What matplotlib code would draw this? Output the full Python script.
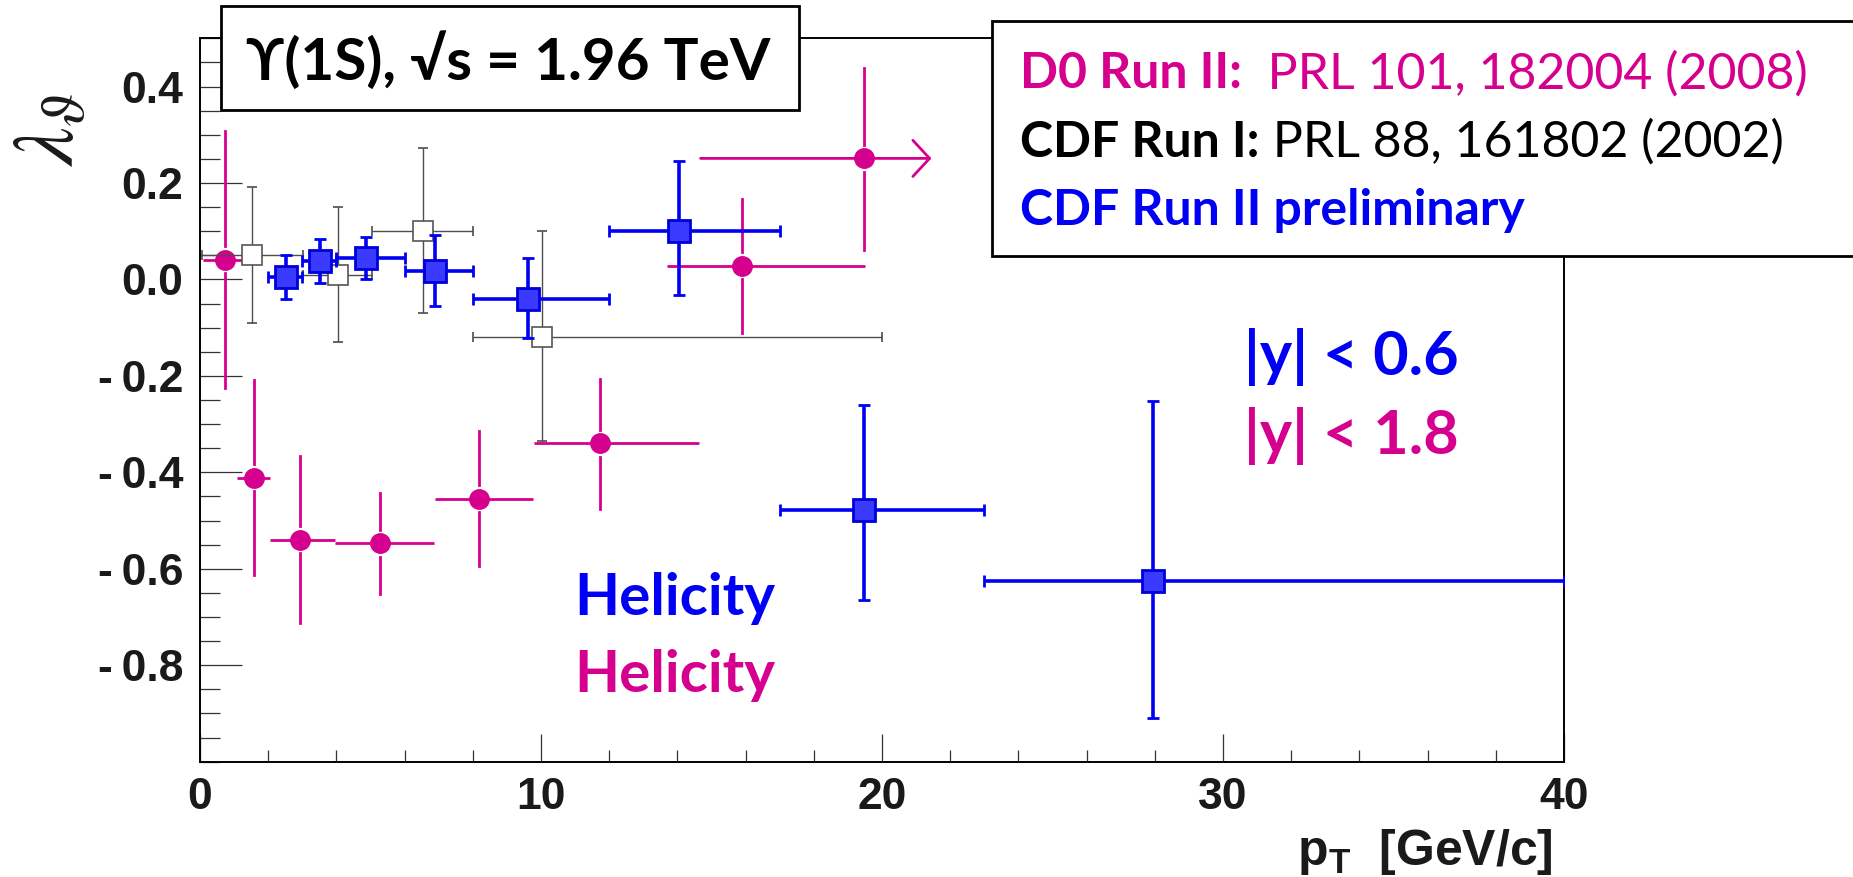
import numpy as np
import matplotlib.pyplot as plt
from matplotlib.patches import Rectangle
from matplotlib.ticker import MultipleLocator

# D0 Run II, |y| < 1.8 (last point only has a lower pT edge -> arrow)
d0_pt = [0.72, 1.57, 2.92, 5.28, 8.18, 11.73, 15.89, 19.46]
d0_pt_lo = [0.10, 1.09, 2.04, 3.97, 6.89, 9.80, 13.70, 14.68]
d0_pt_hi = [1.30, 2.04, 3.97, 6.85, 9.77, 14.63, 19.50, 21.45]
d0_lam = [0.041, -0.411, -0.540, -0.547, -0.455, -0.340, 0.028, 0.251]
d0_lam_lo = [-0.225, -0.612, -0.712, -0.652, -0.595, -0.476, -0.112, 0.061]
d0_lam_hi = [0.308, -0.209, -0.366, -0.442, -0.314, -0.207, 0.167, 0.439]

# CDF Run I
cdf1_pt = [1.52, 4.06, 6.53, 10.03]
cdf1_pt_lo = [0.05, 3.03, 5.04, 8.02]
cdf1_pt_hi = [3.03, 5.04, 8.02, 20.0]
cdf1_lam = [0.050, 0.010, 0.101, -0.119]
cdf1_lam_lo = [-0.090, -0.130, -0.069, -0.336]
cdf1_lam_hi = [0.191, 0.150, 0.272, 0.101]

# CDF Run II preliminary, |y| < 0.6
cdf2_pt = [2.52, 3.52, 4.88, 6.90, 9.62, 14.06, 19.46, 27.94]
cdf2_pt_lo = [2.0, 3.0, 4.0, 6.0, 8.0, 12.0, 17.0, 23.0]
cdf2_pt_hi = [3.0, 4.0, 6.0, 8.0, 12.0, 17.0, 23.0, 40.0]
cdf2_lam = [0.005, 0.038, 0.044, 0.0165, -0.041, 0.101, -0.478, -0.626]
cdf2_lam_lo = [-0.041, -0.007, 0.001, -0.056, -0.121, -0.033, -0.664, -0.910]
cdf2_lam_hi = [0.050, 0.083, 0.0875, 0.092, 0.045, 0.246, -0.261, -0.252]

y_ticks = [-0.8, -0.6, -0.4, -0.2, 0.0, 0.2, 0.4]
y_ticklabels = ["-\u20090.8", "-\u20090.6", "-\u20090.4", "-\u20090.2",
                "0.0", "0.2", "0.4"]
x_ticks = [0, 10, 20, 30, 40]

MAG = "#d6008f"
BLUE = "#0000f5"
GRAY = "#4d4d4d"
TXT = "#1a1a1a"
CAL = ["Lato", "DejaVu Serif"]

plt.rcParams["mathtext.fontset"] = "custom"
plt.rcParams["mathtext.bf"] = "Liberation Sans:bold"
plt.rcParams["mathtext.rm"] = "Liberation Sans"

W, H = 1853, 877
fig = plt.figure(figsize=(W / 100, H / 100), dpi=100)
ax = fig.add_axes([200 / W, 1 - 761.7 / H, 1364 / W, 723.4 / H])
ax.set_xlim(0, 40)
ax.set_ylim(-1.0, 0.5)

# D0: vertical bars broken around the marker, like ROOT draws them
gap = 0.028
for x, y, lo, hi in zip(d0_pt, d0_lam, d0_lam_lo, d0_lam_hi):
    ax.plot([x, x], [lo, y - gap], color=MAG, lw=2.0, zorder=2)
    ax.plot([x, x], [y + gap, hi], color=MAG, lw=2.0, zorder=2)
ax.hlines(d0_lam[:-1], d0_pt_lo[:-1], d0_pt_hi[:-1], color=MAG, lw=2.0, zorder=2)
ax.annotate("", xy=(d0_pt_hi[-1], d0_lam[-1]), xytext=(d0_pt_lo[-1], d0_lam[-1]),
            arrowprops=dict(arrowstyle="->,head_length=0.6,head_width=0.65",
                            color=MAG, lw=2.0, mutation_scale=20,
                            shrinkA=0, shrinkB=0), zorder=2)
ax.plot(d0_pt, d0_lam, "o", ms=14, color=MAG, mec=MAG, mew=1, zorder=2.5)

# CDF Run I: open squares, thin grey bars
pt, lo, hi = map(np.array, (cdf1_pt, cdf1_pt_lo, cdf1_pt_hi))
lam, llo, lhi = map(np.array, (cdf1_lam, cdf1_lam_lo, cdf1_lam_hi))
ax.errorbar(pt, lam, xerr=[pt - lo, hi - pt], yerr=[lam - llo, lhi - lam],
            fmt="s", ms=15, mfc="white", mec="#555555", mew=1.2,
            ecolor=GRAY, elinewidth=1.0, capsize=3.5, capthick=1.0, zorder=3)

# CDF Run II preliminary
pt, lo, hi = map(np.array, (cdf2_pt, cdf2_pt_lo, cdf2_pt_hi))
lam, llo, lhi = map(np.array, (cdf2_lam, cdf2_lam_lo, cdf2_lam_hi))
ax.errorbar(pt, lam, xerr=[pt - lo, hi - pt], yerr=[lam - llo, lhi - lam],
            fmt="s", ms=15.5, mfc="#3a3aff", mec="#0000d8", mew=2,
            ecolor=BLUE, elinewidth=2.6, capsize=4.3, capthick=2.6, zorder=4)

# axes, ROOT-like ticks
for s in ax.spines.values():
    s.set_linewidth(1.4)
    s.set_color("black")
ax.set_xticks(x_ticks)
ax.set_xticklabels([str(v) for v in x_ticks])
ax.xaxis.set_minor_locator(MultipleLocator(2))
ax.set_yticks(y_ticks)
ax.set_yticklabels(y_ticklabels)
ax.yaxis.set_minor_locator(MultipleLocator(0.05))
ax.tick_params(axis="y", which="major", direction="in", length=30, width=0.9,
               color="#333333", pad=12)
ax.tick_params(axis="y", which="minor", direction="in", length=14.5, width=0.9,
               color="#333333")
ax.tick_params(axis="x", which="major", direction="in", length=20, width=0.9,
               color="#333333", pad=11)
ax.tick_params(axis="x", which="minor", direction="in", length=9, width=0.9,
               color="#333333")
for t in ax.get_xticklabels() + ax.get_yticklabels():
    t.set_family("Liberation Sans")
    t.set_fontweight("bold")
    t.set_fontsize(32)
    t.set_color(TXT)

fig.text(1553 / W, 1 - 865 / H, r"$\mathbf{p}_{\mathbf{T}}$  [GeV/c]",
         ha="right", va="baseline", fontsize=36, fontweight="bold",
         family="Liberation Sans", color=TXT)
fig.text(50 / W, 1 - 130 / H, r"$\lambda_{\vartheta}$", rotation=90,
         ha="center", va="center", fontsize=62, math_fontfamily="stix",
         color=TXT)

# title box
fig.add_artist(Rectangle((221 / W, 1 - 110 / H), 578 / W, 104 / H,
                         transform=fig.transFigure, facecolor="white",
                         edgecolor="black", lw=2.0, zorder=5))
fig.text(508 / W, 1 - 80 / H, "ϒ(1S), √s = 1.96 TeV", ha="center",
         va="baseline", fontsize=42, fontweight="bold", family=CAL,
         color="black", zorder=6)

# legend box
fig.add_artist(Rectangle((991.6 / W, 1 - 256 / H), 900 / W, 235 / H,
                         transform=fig.transFigure, facecolor="white",
                         edgecolor="black", lw=2.0, zorder=5))
legend_rows = [
    ("D0 Run II:", "  PRL 101, 182004 (2008)", MAG, 88.3),
    ("CDF Run I:", " PRL 88, 161802 (2002)", "black", 156.7),
]
renderer = fig.canvas.get_renderer()
for bold, rest, col, base in legend_rows:
    t = fig.text(1020 / W, 1 - base / H, bold, ha="left", va="baseline",
                 fontsize=36, fontweight="bold", family=CAL, color=col, zorder=6)
    x_end = fig.transFigure.inverted().transform(
        (t.get_window_extent(renderer).x1, 0))[0]
    fig.text(x_end, 1 - base / H, rest, ha="left", va="baseline",
             fontsize=36, family=CAL, color=col, zorder=6)
fig.text(1020 / W, 1 - 225 / H, "CDF Run II preliminary", ha="left",
         va="baseline", fontsize=36, fontweight="bold", family=CAL,
         color=BLUE, zorder=6)

# rapidity / frame labels
fig.text(1244 / W, 1 - 375 / H, "|y| < 0.6", ha="left", va="baseline",
         fontsize=44, fontweight="bold", family=CAL, color=BLUE)
fig.text(1244 / W, 1 - 454 / H, "|y| < 1.8", ha="left", va="baseline",
         fontsize=44, fontweight="bold", family=CAL, color=MAG)
fig.text(574 / W, 1 - 615 / H, "Helicity", ha="left", va="baseline",
         fontsize=42, fontweight="bold", family=CAL, color=BLUE)
fig.text(574 / W, 1 - 692 / H, "Helicity", ha="left", va="baseline",
         fontsize=42, fontweight="bold", family=CAL, color=MAG)

fig.savefig("out.png", dpi=100)
